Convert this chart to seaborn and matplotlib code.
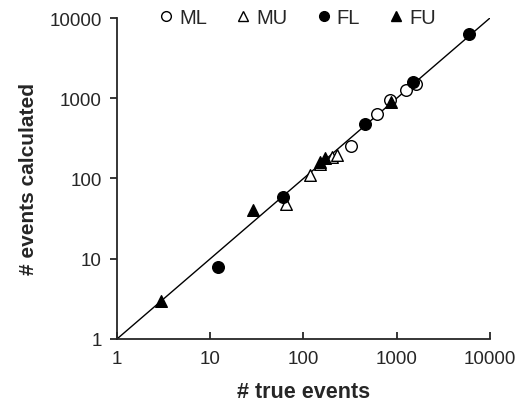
import pandas as pd
import seaborn as sns
import matplotlib.pyplot as plt
from matplotlib.lines import Line2D

# values (true vs calculated events)
ml_true = [320, 620, 850, 1250, 1600]
ml_calc = [255, 630, 950, 1250, 1500]
mu_true = [65, 117, 150, 200, 230]
mu_calc = [48, 110, 150, 185, 195]
fl_true = [12, 60, 460, 1500, 6000]
fl_calc = [8, 58, 480, 1600, 6300]
fu_true = [3, 29, 150, 170, 870]
fu_calc = [3, 40, 160, 180, 900]

diag = [1, 10000]
ticks = [1, 10, 100, 1000, 10000]

sns.set_style("ticks")
plt.rcParams['font.family'] = ['Liberation Sans', 'DejaVu Sans']

fig = plt.figure(figsize=(5.19, 4.06), dpi=100)
ax = fig.add_axes([0.2254, 0.1626, 0.7187, 0.7906])

sns.lineplot(x=diag, y=diag, color='black', linewidth=1.0, ax=ax)

groups = [
    ("ML", ml_true, ml_calc, 'o', 'white'),
    ("MU", mu_true, mu_calc, '^', 'white'),
    ("FL", fl_true, fl_calc, 'o', 'black'),
    ("FU", fu_true, fu_calc, '^', 'black'),
]
handles = []
for name, xt, yc, mk, fc in groups:
    df = pd.DataFrame({'true': xt, 'calc': yc})
    sns.scatterplot(data=df, x='true', y='calc', marker=mk, s=70,
                    facecolor=fc, edgecolor='black', linewidth=1.0,
                    ax=ax, zorder=3)
    handles.append(Line2D([], [], marker=mk, linestyle='none', markersize=7,
                          markerfacecolor=fc, markeredgecolor='black',
                          markeredgewidth=1.0, label=name))

ax.set_xscale('log')
ax.set_yscale('log')
ax.set_xlim(1, 10000)
ax.set_ylim(1, 10000)
ax.set_xticks(ticks)
ax.set_yticks(ticks)
ax.set_xticklabels([str(t) for t in ticks])
ax.set_yticklabels([str(t) for t in ticks])
ax.minorticks_off()

ax.tick_params(axis='x', direction='in', length=5, width=1.3, labelsize=13.5, pad=8)
ax.tick_params(axis='y', direction='out', length=5, width=1.3, labelsize=13.5, pad=6)
for side in ['left', 'bottom']:
    ax.spines[side].set_linewidth(1.3)
sns.despine(ax=ax)

ax.set_xlabel("# true events", fontsize=15.5, fontweight='bold', labelpad=10)
ax.set_ylabel("# events calculated", fontsize=15, fontweight='bold', labelpad=8)

fig.legend(handles=handles, ncol=4, frameon=False, loc='center left',
           bbox_to_anchor=(0.285, 0.955), fontsize=14.5, handletextpad=0.15,
           columnspacing=1.3, handlelength=1.0, borderaxespad=0)

fig.savefig("out.png", dpi=100)
